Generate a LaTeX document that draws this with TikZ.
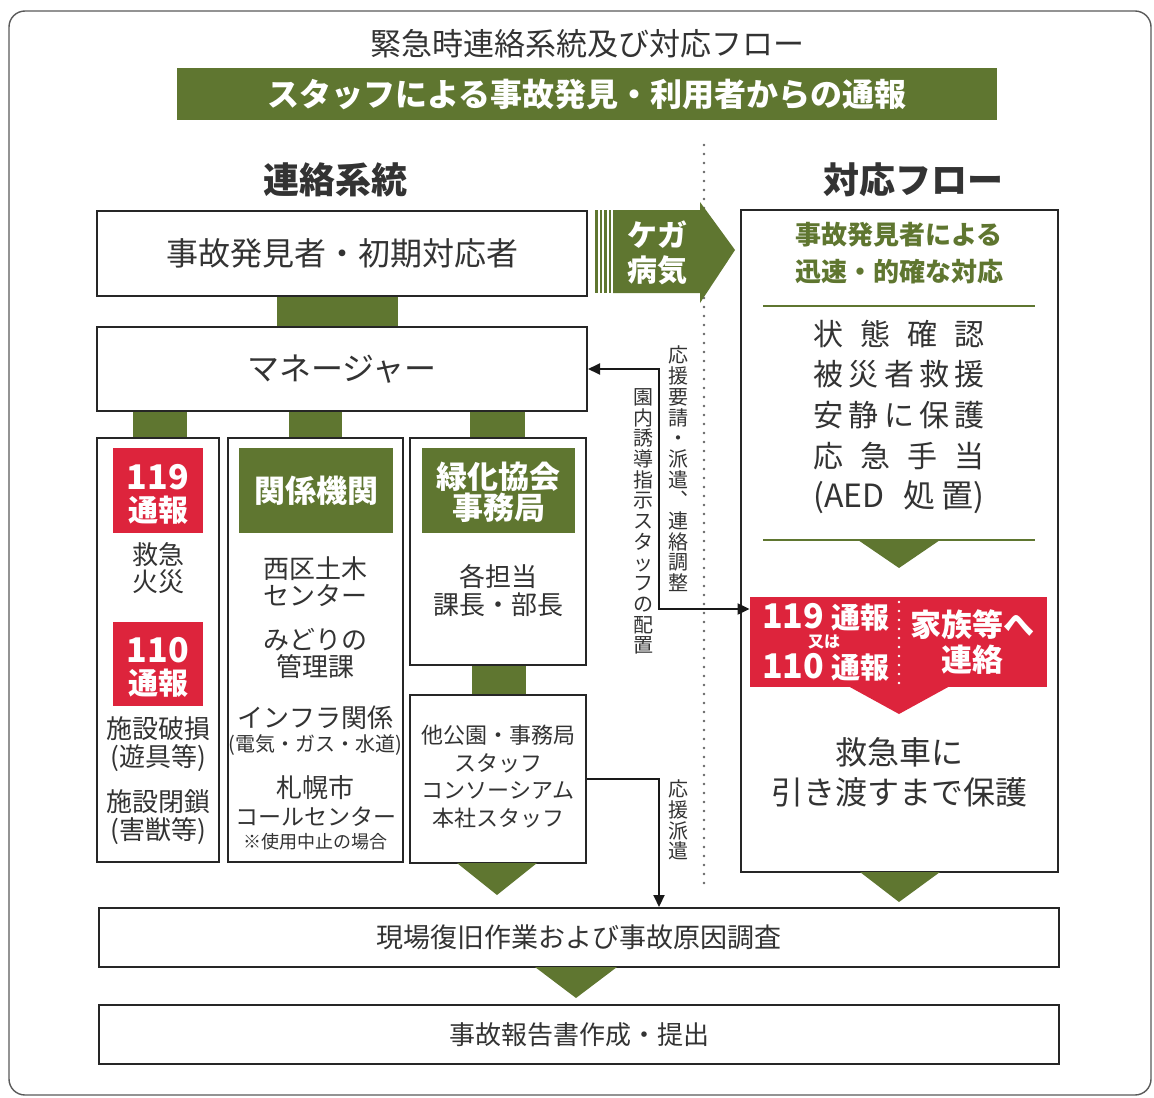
\documentclass[tikz,border=0pt]{standalone}
\usepackage{fontspec}
\setmainfont{Noto Sans CJK JP}
\usetikzlibrary{fit,arrows.meta}
\definecolor{gr}{RGB}{95,118,48}
\definecolor{rd}{RGB}{221,36,60}
\definecolor{tx}{RGB}{51,51,51}
\newcommand\fsz[2]{\fontsize{#1}{#2}\selectfont}
\begin{document}
\begin{tikzpicture}[x=0.5pt,y=-0.5pt,
  box/.style={draw=black!85,line width=1pt,fill=white,inner sep=0pt},
  gfill/.style={fill=gr,draw=none,inner sep=0pt},
  rfill/.style={fill=rd,draw=none,inner sep=0pt},
  txt/.style={text=tx,align=center,inner sep=0pt},
  wtxt/.style={text=white,align=center,inner sep=0pt,font=\bfseries},
  vtxt/.style={text=tx,align=center,inner sep=0pt,font={\fsz{10}{10.35}}},
  conn/.style={draw=black!90,line width=1pt},
  tip/.style={-{Triangle[length=6pt,width=5.5pt]}},
  dtip/.style={{Triangle[length=6pt,width=5.5pt]}-{Triangle[length=6pt,width=5.5pt]}},
]
\useasboundingbox (0,0) rectangle (1154,1097);
\draw[black!65,line width=0.7pt,rounded corners=8pt] (9,11) rectangle (1151,1095);

% title and banner
\node[txt,font={\fsz{15.5}{18}}] (title) at (587,44) {緊急時連絡系統及び対応フロー};
\node[gfill,fit={(177,68)(997,120)}] (banner) {};
\node[wtxt,font={\bfseries\fsz{16}{19}}] (bannert) at (banner.center) {スタッフによる事故発見・利用者からの通報};

\node[txt,font={\bfseries\fsz{18}{21}}] (hL) at (335,180) {連絡系統};
\node[txt,font={\bfseries\fsz{18}{21}}] (hR) at (913,180) {対応フロー};

% dotted divider
\draw[black!60,line width=1.3pt,line cap=round,dash pattern=on 0pt off 4.5pt] (704,145) -- (704,892);

% left column
\node[gfill,fit={(277,296)(398,327)}] (c1) {};
\node[gfill,fit={(133,411)(187,438)}] (c2) {};
\node[gfill,fit={(289,411)(342,438)}] (c3) {};
\node[gfill,fit={(470,411)(525,438)}] (c4) {};
\node[gfill,fit={(472,665)(526,695)}] (c5) {};

\node[box,fit={(97,211)(587,296)}] (b1) {};
\node[txt,font={\fsz{16}{19}}] (b1t) at (b1.center) {事故発見者・初期対応者};
\node[box,fit={(97,327)(587,411)}] (mgr) {};
\node[txt,font={\fsz{16}{19}}] (mgrt) at (mgr.center) {マネージャー};

\node[box,fit={(97,438)(219,862)}] (colA) {};
\node[box,fit={(228,438)(403,862)}] (colB) {};
\node[box,fit={(410,438)(586,665)}] (colC) {};
\node[box,fit={(410,695)(586,863)}] (colD) {};
\fill[gr] (457,863) -- (537,863) -- (497,895) -- cycle;

% column A
\node[rfill,fit={(113,448)(203,533)}] (r119) {};
\node[wtxt,font={\bfseries\fsz{17}{17}}] (r119a) at (158,477) {119};
\node[wtxt,font={\bfseries\fsz{15}{15}}] (r119b) at (158,510) {通報};
\node[txt,font={\fsz{13}{13.5}}] (a1) at (158,568.5) {救急\\火災};
\node[rfill,fit={(113,622)(203,706)}] (r110) {};
\node[wtxt,font={\bfseries\fsz{17}{17}}] (r110a) at (158,650) {110};
\node[wtxt,font={\bfseries\fsz{15}{15}}] (r110b) at (158,683) {通報};
\node[txt,font={\fsz{13}{14}}] (a2) at (158,744) {施設破損\\(遊具等)};
\node[txt,font={\fsz{13}{14}}] (a3) at (158,817.5) {施設閉鎖\\(害獣等)};

% column B
\node[gfill,fit={(239,448)(393,533)}] (gB) {};
\node[wtxt,font={\bfseries\fsz{15.5}{16}}] (gBt) at (gB.center) {関係機関};
\node[txt,font={\fsz{13}{13.5}}] (bb1) at (315.5,581.5) {西区土木\\センター};
\node[txt,font={\fsz{13}{13.5}}] (bb2) at (315.5,653.5) {みどりの\\管理課};
\node[txt,font={\fsz{13}{13}}] (bb3) at (315.5,718) {インフラ関係};
\node[txt,font={\fsz{10}{10}}] (bb4) at (315.5,745) {(電気・ガス・水道)};
\node[txt,font={\fsz{13}{13}}] (bb5) at (315.5,788) {札幌市};
\node[txt,font={\fsz{11.5}{12}}] (bb6) at (315.5,817) {コールセンター};
\node[txt,font={\fsz{9}{9}}] (bb7) at (315.5,842) {※使用中止の場合};

% column C
\node[gfill,fit={(422,448)(575,533)}] (gC) {};
\node[wtxt,font={\bfseries\fsz{15.5}{15.5}}] (gCt) at (498.5,492.5) {緑化協会\\事務局};
\node[txt,font={\fsz{13}{14}}] (cc1) at (498,591) {各担当\\課長・部長};
% column D
\node[txt,font={\fsz{11}{13.8}}] (dd1) at (498,776.5) {他公園・事務局\\スタッフ\\コンソーシアム\\本社スタッフ};

% injury arrow
\foreach \s [count=\i] in {595,599.5,604,608.5} \fill[gr] (\s,210) rectangle ++(2.5,83);
\fill[gr] (613,210) -- (700,210) -- (700,202) -- (735,250) -- (700,303) -- (700,293) -- (613,293) -- cycle;
\node[wtxt,font={\bfseries\fsz{15}{17.5}}] (kega) at (657,252.5) {ケガ\\病気};

% right column
\node[box,fit={(741,210)(1058,872)}] (rbx) {};
\node[text=gr,align=center,inner sep=0pt,font={\bfseries\fsz{13}{18.5}}] (rh) at (899,253.5) {事故発見者による\\迅速・的確な対応};
\draw[gr,line width=1.3pt] (763,306) -- (1035,306);
\node[txt,font={\fsz{15}{20.3}}] (rlist) at (899,417) {\makebox[85.5pt]{状\hfill 態\hfill 確\hfill 認}\\\makebox[85.5pt]{被\hfill 災\hfill 者\hfill 救\hfill 援}\\\makebox[85.5pt]{安\hfill 静\hfill に\hfill 保\hfill 護}\\\makebox[85.5pt]{応\hfill 急\hfill 手\hfill 当}\\\makebox[85.5pt]{\fsz{16}{20.3}(AED\hfill 処\hspace{3pt}置)}};
\draw[gr,line width=1.3pt] (763,540) -- (1035,540);
\fill[gr] (858,540) -- (940,540) -- (899,568) -- cycle;

\node[rfill,fit={(750,597)(1047,687)}] (rb) {};
\fill[rd] (848,686) -- (950,686) -- (899,714) -- cycle;
\node[wtxt] (rb1) at (826,617) {\fsz{17}{17}119 \fsz{14.5}{17}通報};
\node[wtxt,font={\bfseries\fsz{8}{8}}] (rb2) at (824,642) {又は};
\node[wtxt] (rb3) at (826,667) {\fsz{17}{17}110 \fsz{14.5}{17}通報};
\draw[white,line width=1.3pt,line cap=round,dash pattern=on 0pt off 4.5pt] (899,602) -- (899,684);
\node[wtxt,font={\bfseries\fsz{15.5}{17.5}}] (rb4) at (972,642) {家族等へ\\連絡};
\node[txt,font={\fsz{16}{20}}] (rb5) at (899,772) {救急車に\\引き渡すまで保護};
\fill[gr] (860,872) -- (940,872) -- (899,902) -- cycle;

% bottom
\node[box,fit={(99,908)(1059,967)}] (b5) {};
\node[txt,font={\fsz{13.5}{16}}] (b5t) at (b5.center) {現場復旧作業および事故原因調査};
\fill[gr] (535,967) -- (617,967) -- (576,998) -- cycle;
\node[box,fit={(99,1005)(1059,1064)}] (b6) {};
\node[txt,font={\fsz{13}{16}}] (b6t) at (b6.center) {事故報告書作成・提出};

% connectors
\coordinate (j1) at (659,369);
\coordinate (j2) at (659,609);
\draw[conn,dtip] (mgr.east) -- (j1) -- (j2) -- (rb.west |- j2);
\draw[conn,tip] (colD.east) -| (b5.north -| j1);

% vertical labels
\node[vtxt] (v1) at (678,469) {応\\援\\要\\請\\・\\派\\遣\\︑\\連\\絡\\調\\整};
\node[vtxt] (v2) at (643,521.5) {園\\内\\誘\\導\\指\\示\\ス\\タ\\ッ\\フ\\の\\配\\置};
\node[vtxt] (v3) at (678,820) {応\\援\\派\\遣};
\end{tikzpicture}
\end{document}
